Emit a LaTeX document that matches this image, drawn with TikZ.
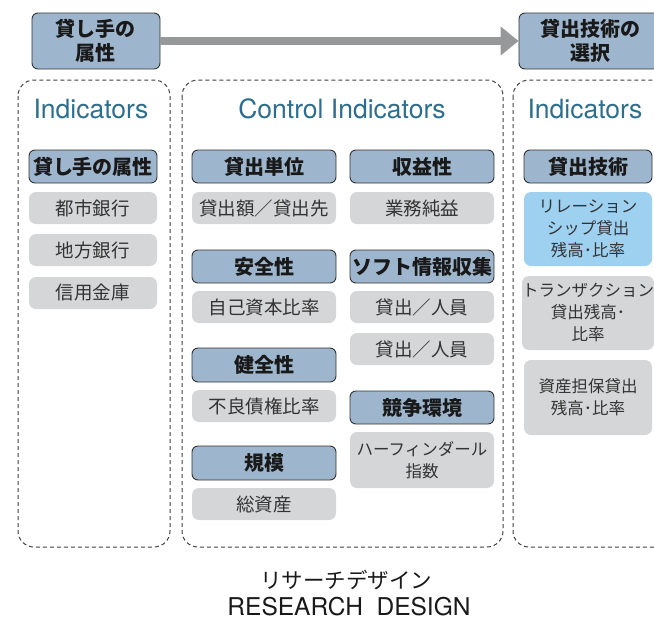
\documentclass[tikz,border=0pt]{standalone}
\usepackage{fontspec}
\setmainfont{TeX Gyre Heros}
\newfontfamily\jp{Noto Sans CJK JP}
\usetikzlibrary{arrows.meta}
\definecolor{hdrblue}{HTML}{9DB6CD}
\definecolor{itemgray}{HTML}{D5D6D8}
\definecolor{relblue}{HTML}{9ED0F0}
\definecolor{titleteal}{HTML}{2B6E8E}
\definecolor{arrowgray}{HTML}{97989A}
\tikzset{
  hdr/.style={rounded corners=6pt, draw=black!80, line width=0.9pt, fill=hdrblue,
    font=\jp\bfseries\fontsize{20}{22}\selectfont, text=black!90, inner sep=0pt, align=center},
  item/.style={rounded corners=7pt, fill=itemgray, inner sep=0pt, align=center,
    font=\jp\fontsize{18.5}{22}\selectfont, text=black!80},
  smitem/.style={item, font=\jp\fontsize{16.5}{22}\selectfont},
  panel/.style={draw=black!75, line width=1pt, dash pattern=on 4pt off 3pt, rounded corners=16pt},
  ptitle/.style={font=\fontsize{26.5}{30}\selectfont, text=titleteal, inner sep=0pt},
  topbox/.style={hdr, font=\jp\bfseries\fontsize{20}{24}\selectfont},
}
\begin{document}
\begin{tikzpicture}[x=1pt,y=-1pt]
\useasboundingbox (0,0) rectangle (654,622);
% top row
\node[topbox, minimum width=128pt, minimum height=56pt] (lender) at (96,41) {貸し手の\\属性};
\node[topbox, minimum width=142pt, minimum height=56pt] (tech) at (590,41) {貸出技術の\\選択};
\draw[arrowgray, line width=8pt, -{Triangle[length=18pt,width=28pt]}] (lender.east) -- (tech.west);
% panels
\draw[panel] (18,80) rectangle (170,547);
\draw[panel] (182,80) rectangle (503,547);
\draw[panel] (513,80) rectangle (680,547);
\node[ptitle] (t1) at (91,109) {Indicators};
\node[ptitle] (t2) at (342,109) {Control Indicators};
\node[ptitle] (t3) at (585,109) {Indicators};
% left column
\node[hdr, minimum width=128pt, minimum height=33pt] (lh) at (93,166.5) {貸し手の属性};
\node[item, minimum width=128pt, minimum height=32pt] (l1) at (93,208) {都市銀行};
\node[item, minimum width=128pt, minimum height=32pt] (l2) at (93,250) {地方銀行};
\node[item, minimum width=128pt, minimum height=32pt] (l3) at (93,293) {信用金庫};
% middle column 1
\node[hdr, minimum width=144pt, minimum height=33pt] (m1) at (264,166.5) {貸出単位};
\node[item, minimum width=144pt, minimum height=32pt] (m1a) at (264,208) {貸出額／貸出先};
\node[hdr, minimum width=144pt, minimum height=33pt] (m2) at (264,266.5) {安全性};
\node[item, minimum width=144pt, minimum height=32pt] (m2a) at (264,307) {自己資本比率};
\node[hdr, minimum width=144pt, minimum height=34pt] (m3) at (264,365) {健全性};
\node[item, minimum width=144pt, minimum height=32pt] (m3a) at (264,406) {不良債権比率};
\node[hdr, minimum width=144pt, minimum height=34pt] (m4) at (264,463) {規模};
\node[item, minimum width=144pt, minimum height=32pt] (m4a) at (264,504) {総資産};
% middle column 2
\node[hdr, minimum width=144pt, minimum height=33pt] (n1) at (422,166.5) {収益性};
\node[item, minimum width=144pt, minimum height=32pt] (n1a) at (422,208) {業務純益};
\node[hdr, minimum width=144pt, minimum height=33pt] (n2) at (422,266.5) {ソフト情報収集};
\node[item, minimum width=144pt, minimum height=32pt] (n2a) at (422,307) {貸出／人員};
\node[item, minimum width=144pt, minimum height=32pt] (n2b) at (422,349) {貸出／人員};
\node[hdr, minimum width=144pt, minimum height=33pt] (n3) at (422,407.5) {競争環境};
\node[smitem, minimum width=144pt, minimum height=56pt] (n3a) at (422,460) {ハーフィンダール\\指数};
% right column
\node[hdr, minimum width=128pt, minimum height=33pt] (r1) at (588,166.5) {貸出技術};
\node[smitem, fill=relblue, minimum width=128pt, minimum height=74pt] (r1a) at (588,229) {リレーション\\シップ貸出\\残高･比率};
\node[smitem, minimum width=128pt, minimum height=74pt] (r1b) at (588,313) {トランザクション\\貸出残高･\\比率};
\node[smitem, minimum width=128pt, minimum height=75pt] (r1c) at (588,397.5) {資産担保貸出\\残高･比率};
% bottom text
\node[font=\jp\fontsize{21.5}{24}\selectfont, text=black!90, inner sep=0pt] (b1) at (346,580) {リサーチデザイン};
\node[font=\fontsize{24.5}{28}\selectfont, text=black!90, inner sep=0pt, anchor=base] (b2) at (349,615) {RESEARCH\ \ DESIGN};
\end{tikzpicture}
\end{document}
